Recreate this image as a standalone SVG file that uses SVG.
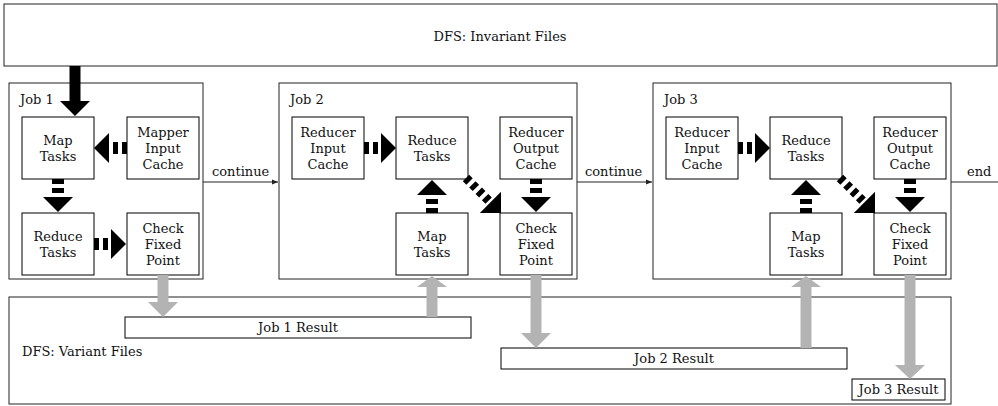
<svg xmlns="http://www.w3.org/2000/svg" width="998" height="406" viewBox="0 0 998 406">
<defs>
<style>
.box{fill:#fff;stroke:#000;stroke-width:1}
.frame{fill:#fff;stroke:#222;stroke-width:1}
.t{font-family:"DejaVu Serif","Liberation Serif",serif;font-size:13px;fill:#111}
.c{text-anchor:middle}
.dash{fill:none;stroke:#000;stroke-width:12;stroke-dasharray:5 4}
.dashd{fill:none;stroke:#000;stroke-width:9;stroke-dasharray:5 4}
.head{fill:#000}
.gray{fill:#b3b3b3}
.thin{fill:none;stroke:#222;stroke-width:1}
</style>
<marker id="arr" viewBox="0 0 8 8" refX="8" refY="4" markerWidth="6" markerHeight="6" orient="auto" markerUnits="userSpaceOnUse">
<path d="M0,0.8 L8,4 L0,7.2 Z" fill="#222"/>
</marker>
</defs>

<g id="dfs-invariant">
<rect class="frame" x="4" y="4" width="993" height="62"/>
<text class="t c" x="500" y="41">DFS: Invariant Files</text>
</g>

<g id="dfs-variant">
<rect class="frame" x="9" y="297" width="942" height="107"/>
<text class="t" x="22" y="356">DFS: Variant Files</text>
</g>

<g id="job1">
<rect class="frame" x="9" y="83" width="194" height="196"/>
<text class="t" x="20" y="104">Job 1</text>
</g>
<g id="job1-map">
<rect class="box" x="22" y="117" width="72" height="62"/>
<text class="t c" x="58" y="145">Map</text><text class="t c" x="58" y="161">Tasks</text>
</g>
<g id="job1-mic">
<rect class="box" x="127" y="117" width="72" height="62"/>
<text class="t c" x="163" y="137">Mapper</text><text class="t c" x="163" y="153">Input</text><text class="t c" x="163" y="169">Cache</text>
</g>
<g id="job1-reduce">
<rect class="box" x="22" y="213" width="72" height="62"/>
<text class="t c" x="58" y="241">Reduce</text><text class="t c" x="58" y="257">Tasks</text>
</g>
<g id="job1-check">
<rect class="box" x="127" y="213" width="72" height="62"/>
<text class="t c" x="163" y="233">Check</text><text class="t c" x="163" y="249">Fixed</text><text class="t c" x="163" y="265">Point</text>
</g>

<g id="job2">
<rect class="frame" x="279" y="83" width="298" height="196"/>
<text class="t" x="290" y="104">Job 2</text>
</g>
<g id="job2-ric">
<rect class="box" x="292" y="117" width="72" height="62"/>
<text class="t c" x="328" y="137">Reducer</text><text class="t c" x="328" y="153">Input</text><text class="t c" x="328" y="169">Cache</text>
</g>
<g id="job2-reduce">
<rect class="box" x="396" y="117" width="72" height="62"/>
<text class="t c" x="432" y="145">Reduce</text><text class="t c" x="432" y="161">Tasks</text>
</g>
<g id="job2-roc">
<rect class="box" x="500" y="117" width="72" height="62"/>
<text class="t c" x="536" y="137">Reducer</text><text class="t c" x="536" y="153">Output</text><text class="t c" x="536" y="169">Cache</text>
</g>
<g id="job2-map">
<rect class="box" x="396" y="213" width="72" height="62"/>
<text class="t c" x="432" y="241">Map</text><text class="t c" x="432" y="257">Tasks</text>
</g>
<g id="job2-check">
<rect class="box" x="500" y="213" width="72" height="62"/>
<text class="t c" x="536" y="233">Check</text><text class="t c" x="536" y="249">Fixed</text><text class="t c" x="536" y="265">Point</text>
</g>

<g id="job3">
<rect class="frame" x="653" y="83" width="298" height="196"/>
<text class="t" x="664" y="104">Job 3</text>
</g>
<g id="job3-ric">
<rect class="box" x="666" y="117" width="72" height="62"/>
<text class="t c" x="702" y="137">Reducer</text><text class="t c" x="702" y="153">Input</text><text class="t c" x="702" y="169">Cache</text>
</g>
<g id="job3-reduce">
<rect class="box" x="770" y="117" width="72" height="62"/>
<text class="t c" x="806" y="145">Reduce</text><text class="t c" x="806" y="161">Tasks</text>
</g>
<g id="job3-roc">
<rect class="box" x="874" y="117" width="72" height="62"/>
<text class="t c" x="910" y="137">Reducer</text><text class="t c" x="910" y="153">Output</text><text class="t c" x="910" y="169">Cache</text>
</g>
<g id="job3-map">
<rect class="box" x="770" y="213" width="72" height="62"/>
<text class="t c" x="806" y="241">Map</text><text class="t c" x="806" y="257">Tasks</text>
</g>
<g id="job3-check">
<rect class="box" x="874" y="213" width="72" height="62"/>
<text class="t c" x="910" y="233">Check</text><text class="t c" x="910" y="249">Fixed</text><text class="t c" x="910" y="265">Point</text>
</g>

<g id="job1-result">
<rect class="box" x="125" y="317" width="346" height="21"/>
<text class="t c" x="298" y="332">Job 1 Result</text>
</g>
<g id="job2-result">
<rect class="box" x="501" y="348" width="346" height="21"/>
<text class="t c" x="674" y="363">Job 2 Result</text>
</g>
<g id="job3-result">
<rect class="box" x="852" y="379" width="93" height="21"/>
<text class="t c" x="898.5" y="394">Job 3 Result</text>
</g>

<g id="connectors">
<!-- flow between jobs -->
<path class="thin" d="M203,182 H278" marker-end="url(#arr)"/>
<text class="t" x="212" y="176">continue</text>
<path class="thin" d="M577,182 H652" marker-end="url(#arr)"/>
<text class="t" x="585" y="176">continue</text>
<path class="thin" d="M951,182 H998"/>
<text class="t" x="967" y="176">end</text>

<!-- invariant input to job 1 map -->
<rect class="head" x="69.5" y="66" width="11" height="35"/>
<polygon class="head" points="60,101 90,101 75,116"/>

<!-- job 1 dashed -->
<path class="dash" d="M127,148 H109"/>
<polygon class="head" points="109,133 109,163 94,148"/>
<path class="dash" d="M58,179 V197"/>
<polygon class="head" points="43,197 73,197 58,212"/>
<path class="dash" d="M94,244 H111"/>
<polygon class="head" points="111,229 111,259 126,244"/>

<!-- job 2 dashed -->
<path class="dash" d="M364,148 H381"/>
<polygon class="head" points="381,133 381,163 396,148"/>
<path class="dash" d="M432,213 V195"/>
<polygon class="head" points="417,195 447,195 432,180"/>
<path class="dash" d="M536,179 V197"/>
<polygon class="head" points="521,197 551,197 536,212"/>
<path class="dashd" d="M466,178 L490.4,202.4"/>
<polygon class="head" points="501,213 501,191.8 479.8,213"/>

<!-- job 3 dashed -->
<path class="dash" d="M738,148 H755"/>
<polygon class="head" points="755,133 755,163 770,148"/>
<path class="dash" d="M806,213 V195"/>
<polygon class="head" points="791,195 821,195 806,180"/>
<path class="dash" d="M910,179 V197"/>
<polygon class="head" points="895,197 925,197 910,212"/>
<path class="dashd" d="M840,178 L864.4,202.4"/>
<polygon class="head" points="875,213 875,191.8 853.8,213"/>

<!-- gray result flows -->
<rect class="gray" x="157.5" y="275" width="11" height="27"/>
<polygon class="gray" points="148,302 178,302 163,317"/>
<rect class="gray" x="426.5" y="287" width="11" height="30"/>
<polygon class="gray" points="417,287 447,287 432,276"/>
<rect class="gray" x="530.5" y="275" width="11" height="58"/>
<polygon class="gray" points="521,333 551,333 536,348"/>
<rect class="gray" x="800.5" y="287" width="11" height="61"/>
<polygon class="gray" points="791,287 821,287 806,276"/>
<rect class="gray" x="904.5" y="275" width="11" height="90"/>
<polygon class="gray" points="895,365 925,365 910,379"/>
</g>
</svg>
